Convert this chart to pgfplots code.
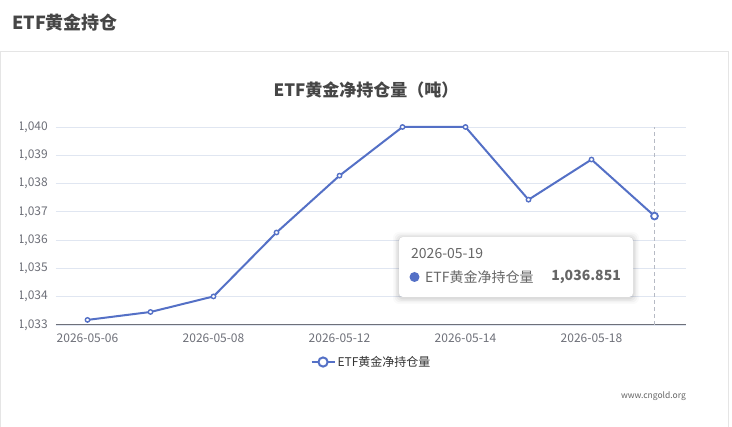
\documentclass[border=0pt]{standalone}
\usepackage{fontspec}
\setmainfont{Noto Sans CJK SC}
\usepackage{pgfplots}
\usepackage{pgfplotstable}
\pgfplotsset{compat=1.18}
\definecolor{serie}{HTML}{5470C6}
\definecolor{axisgray}{HTML}{6E7079}
\definecolor{gridc}{HTML}{E0E6F1}
\definecolor{panel}{HTML}{E5E5E5}
\definecolor{titlec}{HTML}{464646}
\definecolor{tipc}{HTML}{666666}
\definecolor{legc}{HTML}{333333}
\definecolor{cursor}{HTML}{B6BAC4}

\pgfplotstableread{
x y
0 1033.18
1 1033.46
2 1034.01
3 1036.27
4 1038.28
5 1040.00
6 1040.00
7 1037.43
8 1038.85
9 1036.851
}\etfdata

\begin{document}
\begin{tikzpicture}[x=1pt,y=1pt]
\useasboundingbox (0,0) rectangle (732,427);
\fill[white] (0,0) rectangle (732,427);
% panel
\draw[panel, line width=1pt] (0.5,-2) -- (0.5,375) -- (728.5,375) -- (728.5,-2);
% page title
\node[anchor=west, inner sep=0, text=titlec, font=\bfseries\fontsize{18}{20}\selectfont] at (12,404) {ETF黄金持仓};
% chart title
\node[inner sep=0, text=titlec, font=\bfseries\fontsize{17}{20}\selectfont] at (366,337) {ETF黄金净持仓量（吨）};

\begin{scope}
\clip (20.6pt,0pt) rectangle (732pt,427pt);
\begin{axis}[
  scale only axis, width=630pt, height=198pt,
  at={(56pt,102pt)}, anchor=south west,
  xmin=-0.5, xmax=9.5, ymin=1033, ymax=1040,
  separate axis lines,
  axis x line*=bottom, axis y line*=left,
  x axis line style={draw=axisgray, line width=1pt, -},
  y axis line style={draw=none},
  major tick length=0pt,
  ymajorgrids, grid style={gridc, line width=0.9pt},
  xtick={0,2,4,6,8},
  xticklabels={2026-05-06,2026-05-08,2026-05-12,2026-05-14,2026-05-18},
  ytick={1033,1034,...,1040},
  scaled y ticks=false,
  /pgf/number format/.cd, fixed, 1000 sep={,}, assume math mode=true,
  /pgfplots/.cd,
  tick label style={font=\fontsize{12}{14}\selectfont, text=axisgray},
  xticklabel style={anchor=north, inner sep=0pt, yshift=-9pt},
  yticklabel style={anchor=east, inner sep=0pt, xshift=-8pt},
  clip=false,
  legend style={at={(0.5008,-0.187)}, anchor=center, draw=none, fill=none,
    font=\fontsize{12}{14}\selectfont, text=legc,
    legend cell align=left, inner sep=0pt},
  legend image code/.code={
    \draw[serie, line width=2pt] (0pt,0pt) -- (23pt,0pt);
    \draw[serie, fill=white, line width=2pt] (11.5pt,0pt) circle (4.6pt);
  },
]
\addplot[cursor, dashed, line width=0.9pt, forget plot, dash pattern=on 4pt off 3pt] coordinates {(9,1033) (9,1040)};
\addplot[serie, line width=2pt, mark=*, mark size=2.2pt,
  mark options={fill=white, line width=1.4pt, solid}] table[x=x, y=y] {\etfdata};
\addlegendentry{ETF黄金净持仓量}
\addplot[serie, only marks, mark=*, mark size=3.4pt, forget plot,
  mark options={fill=white, line width=1.8pt}] coordinates {(9,1036.851)};
\end{axis}
\end{scope}

% tooltip shadow
\foreach \s/\o in {6/0.02,4.5/0.03,3/0.04,1.5/0.05}{
  \fill[black, opacity=\o, rounded corners=6pt] (399-\s,130-\s-1) rectangle (633+\s,190+\s-1);
}
\fill[white, rounded corners=4pt] (399,130) rectangle (633,190);
\node[anchor=west, inner sep=0, text=tipc, font=\fontsize{14}{16}\selectfont] at (411,173) {2026-05-19};
\fill[serie] (414.5,150) circle (5pt);
\node[anchor=west, inner sep=0, text=tipc, font=\fontsize{14}{16}\selectfont] at (425,150) {ETF黄金净持仓量};
\node[anchor=east, inner sep=0, text=tipc, font=\bfseries\fontsize{14}{16}\selectfont] at (621,150) {1,036.851};
% watermark
\node[anchor=east, inner sep=0, text=tipc, font=\fontsize{8.5}{10}\selectfont] at (686,31) {www.cngold.org};
\end{tikzpicture}
\end{document}
